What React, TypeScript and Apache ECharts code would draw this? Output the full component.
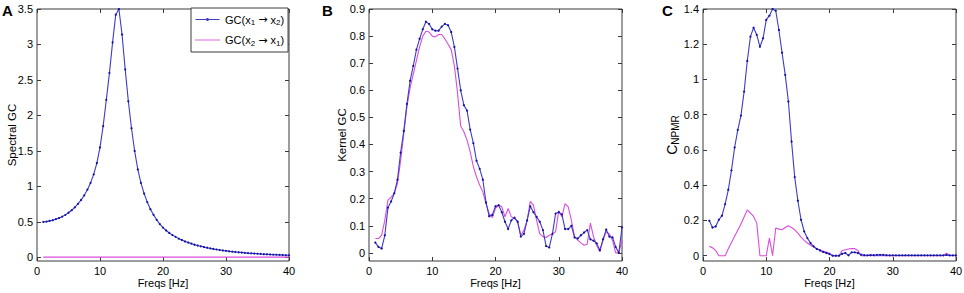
import React, { useEffect, useRef } from "react";
import * as echarts from "echarts";

// Frequency grid: 1 .. 40 Hz, 0.5 Hz steps (79 points)
const freqs: number[] = Array.from({ length: 79 }, (_, i) => 1 + i * 0.5);

const xTicks = [0, 10, 20, 30, 40];
const yTicksA = [0, 0.5, 1, 1.5, 2, 2.5, 3, 3.5];
const yTicksB = [0, 0.1, 0.2, 0.3, 0.4, 0.5, 0.6, 0.7, 0.8, 0.9];
const yTicksC = [0, 0.2, 0.4, 0.6, 0.8, 1, 1.2, 1.4];

const nameBlue = "GC(x1 → x2)";
const namePink = "GC(x2 → x1)";

// Panel A: spectral GC
const specBlue = [
  0.5, 0.505, 0.515, 0.525, 0.54, 0.555, 0.575, 0.6, 0.63, 0.665,
  0.705, 0.755, 0.81, 0.875, 0.955, 1.05, 1.17, 1.33, 1.55, 1.85,
  2.22, 2.6, 3.03, 3.42, 3.5, 3.14, 2.65, 2.2, 1.82, 1.5,
  1.24, 1.05, 0.9, 0.78, 0.68, 0.6, 0.53, 0.47, 0.42, 0.38,
  0.345, 0.315, 0.29, 0.265, 0.245, 0.225, 0.21, 0.195, 0.18, 0.168,
  0.157, 0.147, 0.137, 0.128, 0.12, 0.112, 0.105, 0.099, 0.093, 0.087,
  0.082, 0.077, 0.073, 0.069, 0.065, 0.061, 0.058, 0.055, 0.052, 0.049,
  0.046, 0.044, 0.042, 0.04, 0.038, 0.036, 0.034, 0.032, 0.03,
];
const specPink = [
  0.005, 0.005, 0.005, 0.005, 0.005, 0.005, 0.005, 0.005, 0.005, 0.005,
  0.005, 0.005, 0.005, 0.005, 0.005, 0.005, 0.005, 0.005, 0.005, 0.005,
  0.005, 0.005, 0.005, 0.005, 0.005, 0.005, 0.005, 0.005, 0.005, 0.005,
  0.005, 0.005, 0.005, 0.005, 0.005, 0.005, 0.005, 0.005, 0.005, 0.005,
  0.005, 0.005, 0.005, 0.005, 0.005, 0.005, 0.005, 0.005, 0.005, 0.005,
  0.005, 0.005, 0.005, 0.005, 0.005, 0.005, 0.005, 0.005, 0.005, 0.005,
  0.005, 0.005, 0.005, 0.005, 0.005, 0.005, 0.005, 0.005, 0.005, 0.005,
  0.005, 0.005, 0.005, 0.005, 0.005, 0.005, 0.005, 0.005, 0.005,
];

// Panel B: kernel GC
const kernBlue = [
  0.038, 0.022, 0.016, 0.065, 0.167, 0.19, 0.22, 0.27, 0.37, 0.45,
  0.55, 0.635, 0.69, 0.75, 0.79, 0.825, 0.853, 0.845, 0.825, 0.82,
  0.82, 0.835, 0.845, 0.84, 0.815, 0.76, 0.68, 0.6, 0.545, 0.525,
  0.455, 0.405, 0.34, 0.31, 0.27, 0.186, 0.135, 0.14, 0.172, 0.176,
  0.15, 0.115, 0.088, 0.12, 0.13, 0.115, 0.06, 0.07, 0.12, 0.172,
  0.15, 0.133, 0.115, 0.084, 0.025, 0.02, 0.07, 0.145, 0.15, 0.142,
  0.088, 0.088, 0.1, 0.057, 0.053, 0.065, 0.075, 0.084, 0.05, 0.045,
  0.035, 0.01, 0.05, 0.086, 0.06, 0.057, 0.022, 0.0, 0.094,
];
const kernPink = [
  0.053, 0.053, 0.065, 0.12, 0.195, 0.206, 0.22, 0.256, 0.34, 0.44,
  0.54, 0.61, 0.66, 0.71, 0.76, 0.8, 0.818, 0.815, 0.8, 0.797,
  0.806, 0.806, 0.79, 0.77, 0.75, 0.69, 0.59, 0.467, 0.447, 0.416,
  0.373, 0.318, 0.28, 0.25, 0.225, 0.182, 0.145, 0.13, 0.164, 0.176,
  0.17, 0.133, 0.164, 0.133, 0.127, 0.115, 0.065, 0.084, 0.12, 0.19,
  0.176, 0.12, 0.07, 0.06, 0.057, 0.065, 0.07, 0.078, 0.155, 0.133,
  0.182, 0.17, 0.12, 0.06, 0.047, 0.037, 0.028, 0.032, 0.11, 0.06,
  0.028, 0.004, 0.047, 0.078, 0.07, 0.047, 0.0, 0.0, 0.047,
];

// Panel C: C_NPMR
const npmrBlue = [
  0.198, 0.16, 0.166, 0.204, 0.227, 0.293, 0.374, 0.484, 0.614, 0.714,
  0.795, 0.931, 1.105, 1.243, 1.294, 1.253, 1.186, 1.234, 1.338, 1.362,
  1.4, 1.39, 1.281, 1.152, 1.026, 0.875, 0.648, 0.446, 0.312, 0.204,
  0.138, 0.1, 0.072, 0.053, 0.038, 0.03, 0.021, 0.015, 0.009, 0.0,
  0.0, 0.0, 0.011, 0.015, 0.002, 0.019, 0.019, 0.015, 0.006, 0.003,
  0.002, 0.002, 0.003, 0.005, 0.005, 0.005, 0.003, 0.002, 0.002, 0.002,
  0.002, 0.002, 0.002, 0.002, 0.002, 0.002, 0.002, 0.002, 0.002, 0.002,
  0.002, 0.002, 0.002, 0.002, 0.002, 0.004, 0.002, 0.002, 0.002,
];
const npmrPink = [
  0.053, 0.045, 0.03, 0.0, 0.0, 0.0, 0.04, 0.075, 0.11, 0.145,
  0.18, 0.22, 0.26, 0.242, 0.223, 0.185, 0.0, 0.0, 0.0, 0.1,
  0.0, 0.157, 0.151, 0.147, 0.16, 0.17, 0.16, 0.147, 0.128, 0.106,
  0.087, 0.072, 0.059, 0.049, 0.04, 0.034, 0.026, 0.021, 0.015, 0.0,
  0.0, 0.0, 0.03, 0.034, 0.038, 0.04, 0.04, 0.03, 0.0, 0.0,
  0.0, 0.008, 0.0, 0.0, 0.0, 0.0, 0.0, 0.0, 0.0, 0.0,
  0.0, 0.0, 0.0, 0.0, 0.0, 0.0, 0.0, 0.0, 0.0, 0.0,
  0.0, 0.0, 0.0, 0.0, 0.0, 0.015, 0.0, 0.0, 0.0,
];

const FONT = "'Liberation Sans', Arial, Helvetica, sans-serif";
const BLUE = "#3b3bcc";
const BLUE_DOT = "#12129e";
const PINK = "#dc4ddc";
const BOX = "#3a3a3a";

const pair = (vals: number[]) => vals.map((v, i) => [freqs[i], v]);

export default function App() {
  const ref = useRef<HTMLDivElement>(null);
  useEffect(() => {
    if (!ref.current) return;
    const chart = echarts.init(ref.current, undefined, { renderer: "svg" });

    const panels = [
      { left: 37, width: 252, ymin: -0.05, ymax: 3.5, ticks: yTicksA, name: "Spectral GC", gap: 19, fs: 11.5, blue: specBlue, pink: specPink },
      { left: 369, width: 253, ymin: -0.03, ymax: 0.9, ticks: yTicksB, name: "Kernel GC", gap: 21, fs: 11.5, blue: kernBlue, pink: kernPink },
      { left: 703, width: 253, ymin: -0.03, ymax: 1.4, ticks: yTicksC, name: "C{sub|NPMR}", gap: 23, fs: 14, blue: npmrBlue, pink: npmrPink },
    ];

    const grid: any[] = [];
    const xAxis: any[] = [];
    const yAxis: any[] = [];
    const series: any[] = [];

    panels.forEach((p, g) => {
      grid.push({ left: p.left, top: 9, width: p.width, height: 252, show: true, borderColor: BOX, borderWidth: 1, containLabel: false, outerBoundsMode: "none" });
      const xCommon = { type: "value", gridIndex: g, min: 0, max: 40, splitLine: { show: false }, axisLine: { show: false, onZero: false } };
      const tickStyle = { show: true, inside: true, length: 4, customValues: xTicks, lineStyle: { color: BOX, width: 1 } };
      xAxis.push({
        ...xCommon, position: "bottom",
        axisTick: tickStyle,
        axisLabel: { show: true, customValues: xTicks, color: "#000", fontFamily: FONT, fontSize: 11, margin: 4, formatter: (v: number) => String(v) },
        name: "Freqs [Hz]", nameLocation: "middle", nameGap: 16, nameMoveOverlap: false,
        nameTextStyle: { color: "#000", fontFamily: FONT, fontSize: 11 },
      });
      xAxis.push({
        ...xCommon, position: "top",
        axisTick: tickStyle,
        axisLabel: { show: false },
      });
      const yCommon = { type: "value", gridIndex: g, min: p.ymin, max: p.ymax, splitLine: { show: false }, axisLine: { show: false, onZero: false } };
      const yTick = { show: true, inside: true, length: 4, customValues: p.ticks, lineStyle: { color: BOX, width: 1 } };
      yAxis.push({
        ...yCommon, position: "left",
        axisTick: yTick,
        axisLabel: { show: true, customValues: p.ticks, color: "#000", fontFamily: FONT, fontSize: 11, margin: 4, formatter: (v: number) => String(v) },
        name: p.name, nameLocation: "middle", nameGap: p.gap, nameRotate: 90, nameMoveOverlap: false,
        nameTextStyle: {
          color: "#000", fontFamily: FONT, fontSize: p.fs,
          rich: { sub: { fontFamily: FONT, fontSize: 10, color: "#000", verticalAlign: "bottom", padding: [7, 0, 0, 0] } },
        },
      });
      yAxis.push({
        ...yCommon, position: "right",
        axisTick: yTick,
        axisLabel: { show: false },
      });
      series.push({
        type: "line", name: nameBlue, xAxisIndex: 2 * g, yAxisIndex: 2 * g,
        data: pair(p.blue), symbol: "circle", symbolSize: 2.2, showSymbol: true,
        lineStyle: { color: BLUE, width: 1.1 }, itemStyle: { color: BLUE_DOT },
        silent: true, z: 3,
      });
      series.push({
        type: "line", name: namePink, xAxisIndex: 2 * g, yAxisIndex: 2 * g,
        data: pair(p.pink), symbol: "none", showSymbol: false,
        lineStyle: { color: PINK, width: 1.1 }, itemStyle: { color: PINK },
        silent: true, z: 2,
      });
    });

    chart.setOption({
      animation: false,
      backgroundColor: "#fff",
      grid, xAxis, yAxis, series,
      legend: {
        data: [
          { name: nameBlue, icon: "path://M0,1.1H24V1.9H0Z M11,0H13V3H11Z", itemStyle: { color: BLUE } },
          { name: namePink, icon: "path://M0,1.1H24V1.9H0Z", itemStyle: { color: PINK } },
        ],
        orient: "vertical",
        left: 191, top: 8,
        backgroundColor: "#fff",
        borderColor: BOX, borderWidth: 1, borderRadius: 0,
        padding: [6, 4, 5, 4],
        itemGap: 8, itemWidth: 25, itemHeight: 3,
        selectedMode: false,
        formatter: (n: string) => (n === nameBlue ? "GC(x{sub|1} {arr|→} x{sub|2})" : "GC(x{sub|2} {arr|→} x{sub|1})"),
        textStyle: {
          color: "#000", fontFamily: FONT, fontSize: 11,
          rich: {
            sub: { fontFamily: FONT, fontSize: 8, color: "#000", verticalAlign: "bottom", padding: [6, 0, 0, 0] },
            arr: { fontFamily: "'DejaVu Sans', sans-serif", fontSize: 11, color: "#000" },
          },
        },
      },
      graphic: [
        { type: "text", left: 2, top: 3, style: { text: "A", font: `bold 15px ${FONT}`, fill: "#000" } },
        { type: "text", left: 322, top: 3, style: { text: "B", font: `bold 15px ${FONT}`, fill: "#000" } },
        { type: "text", left: 662, top: 3, style: { text: "C", font: `bold 15px ${FONT}`, fill: "#000" } },
      ],
    });
    return () => chart.dispose();
  }, []);
  return <div ref={ref} style={{ position: "fixed", left: 0, top: 0, width: 964, height: 293, background: "#fff" }} />;
}
